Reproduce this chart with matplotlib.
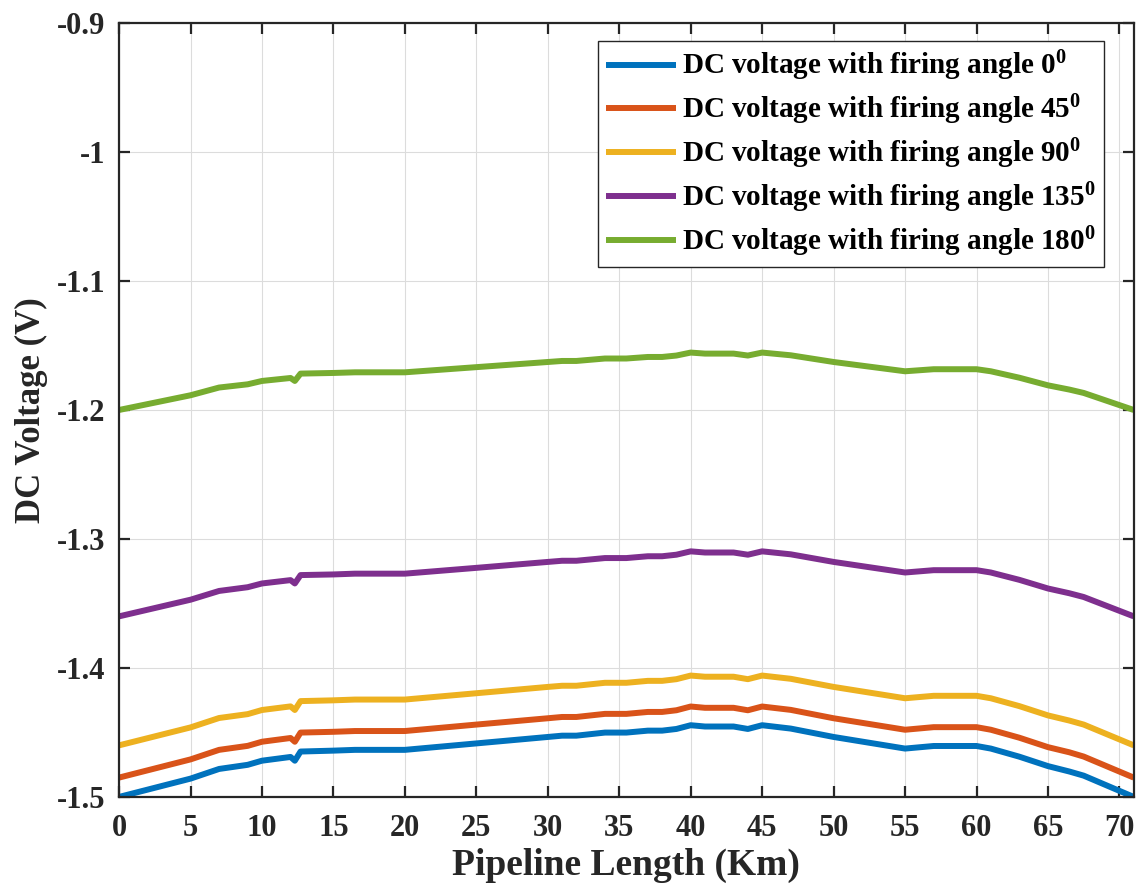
import matplotlib
matplotlib.use("Agg")
import matplotlib.pyplot as plt
from matplotlib.ticker import FuncFormatter

plt.rcParams['font.family'] = ['Liberation Serif', 'DejaVu Serif']
plt.rcParams['font.weight'] = 'bold'
plt.rcParams['mathtext.fontset'] = 'custom'
plt.rcParams['mathtext.rm'] = 'Liberation Serif:bold'
plt.rcParams['mathtext.bf'] = 'Liberation Serif:bold'
plt.rcParams['mathtext.it'] = 'Liberation Serif:bold'
plt.rcParams['axes.unicode_minus'] = False

# Pipeline length (km)
x_km = [0, 5, 7, 9, 10, 12, 12.3, 12.7, 15, 16.5, 20, 25, 30, 31, 32, 34, 35.5, 37, 38, 39,
        40, 41, 43, 44, 45, 47, 50, 55, 57, 60, 61, 63, 65, 66.5, 67.5, 71]

v_0 = [-1.5000, -1.4858, -1.4783, -1.4751, -1.4719, -1.4690, -1.4719, -1.4648, -1.4641, -1.4635,
       -1.4635, -1.4585, -1.4535, -1.4525, -1.4525, -1.4501, -1.4501, -1.4486, -1.4486, -1.4473,
       -1.4444, -1.4454, -1.4454, -1.4473, -1.4444, -1.4470, -1.4535, -1.4625, -1.4605, -1.4605,
       -1.4625, -1.4688, -1.4761, -1.4803, -1.4835, -1.5000]
v_45 = [-1.4850, -1.4709, -1.4635, -1.4604, -1.4572, -1.4543, -1.4572, -1.4501, -1.4495, -1.4489,
        -1.4489, -1.4439, -1.4390, -1.4380, -1.4380, -1.4356, -1.4356, -1.4341, -1.4341, -1.4328,
        -1.4299, -1.4309, -1.4309, -1.4328, -1.4299, -1.4325, -1.4390, -1.4479, -1.4459, -1.4459,
        -1.4479, -1.4541, -1.4614, -1.4654, -1.4687, -1.4850]
v_90 = [-1.4600, -1.4461, -1.4388, -1.4358, -1.4326, -1.4298, -1.4326, -1.4257, -1.4251, -1.4245,
        -1.4245, -1.4196, -1.4147, -1.4138, -1.4138, -1.4115, -1.4115, -1.4100, -1.4100, -1.4087,
        -1.4059, -1.4068, -1.4068, -1.4087, -1.4059, -1.4084, -1.4147, -1.4235, -1.4216, -1.4216,
        -1.4235, -1.4296, -1.4368, -1.4408, -1.4439, -1.4600]
v_135 = [-1.3600, -1.3471, -1.3403, -1.3374, -1.3345, -1.3319, -1.3345, -1.3280, -1.3275, -1.3269,
         -1.3269, -1.3224, -1.3178, -1.3169, -1.3169, -1.3148, -1.3148, -1.3134, -1.3134, -1.3122,
         -1.3096, -1.3105, -1.3105, -1.3122, -1.3096, -1.3119, -1.3178, -1.3260, -1.3242, -1.3242,
         -1.3260, -1.3317, -1.3384, -1.3421, -1.3450, -1.3600]
v_180 = [-1.2000, -1.1886, -1.1826, -1.1801, -1.1775, -1.1752, -1.1775, -1.1718, -1.1713, -1.1708,
         -1.1708, -1.1668, -1.1628, -1.1620, -1.1620, -1.1601, -1.1601, -1.1589, -1.1589, -1.1578,
         -1.1555, -1.1563, -1.1563, -1.1578, -1.1555, -1.1576, -1.1628, -1.1700, -1.1684, -1.1684,
         -1.1700, -1.1750, -1.1809, -1.1842, -1.1868, -1.2000]

labels = [r'DC voltage with firing angle 0$^{0}$',
          r'DC voltage with firing angle 45$^{0}$',
          r'DC voltage with firing angle 90$^{0}$',
          r'DC voltage with firing angle 135$^{0}$',
          r'DC voltage with firing angle 180$^{0}$']
colors = ['#0072BD', '#D95319', '#EDB120', '#7E2F8E', '#77AC30']
series = [v_0, v_45, v_90, v_135, v_180]

x_ticks = [0, 5, 10, 15, 20, 25, 30, 35, 40, 45, 50, 55, 60, 65, 70]
y_ticks = [-1.5, -1.4, -1.3, -1.2, -1.1, -1.0, -0.9]

fig = plt.figure(figsize=(11.36, 8.85), dpi=100)
ax = fig.add_axes([0.1048, 0.0995, 0.8932, 0.8745])

for ys, c, lab in zip(series, colors, labels):
    ax.plot(x_km, ys, color=c, linewidth=4.3, label=lab, solid_joinstyle='round',
            solid_capstyle='butt')

ax.set_xlim(0, 71)
ax.set_ylim(-1.5, -0.9)
ax.set_xticks(x_ticks)
ax.set_yticks(y_ticks)
ax.yaxis.set_major_formatter(FuncFormatter(lambda v, p: '%g' % round(v, 2)))
ax.grid(True, color='#dcdcdc', linewidth=0.8)
ax.set_axisbelow(True)
ax.tick_params(direction='in', length=8, width=1.6, top=True, right=True,
               labelsize=22, colors='#262626')
ax.tick_params(axis='x', pad=12)
ax.tick_params(axis='y', pad=10)
for sp in ax.spines.values():
    sp.set_linewidth(1.6)
    sp.set_color('#262626')

ax.set_xlabel('Pipeline Length (Km)', fontsize=27, fontweight='bold', color='#262626', labelpad=4)
ax.set_ylabel('DC Voltage (V)', fontsize=25, fontweight='bold', color='#262626', labelpad=6)

leg = ax.legend(loc='upper right', bbox_to_anchor=(0.9705, 0.977), fontsize=21,
                frameon=True, fancybox=False, edgecolor='#262626', framealpha=1,
                handlelength=2.4, handletextpad=0.2, borderpad=0.28, labelspacing=0.32,
                borderaxespad=0)
leg.get_frame().set_linewidth(1.0)
for t in leg.get_texts():
    t.set_fontweight('bold')

fig.savefig('out.png', dpi=100)
